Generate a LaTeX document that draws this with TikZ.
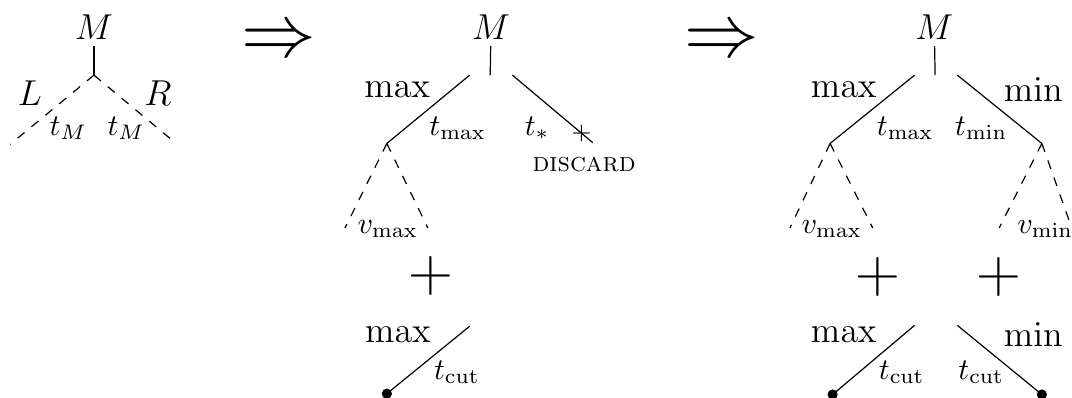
\documentclass[tikz,border=0pt]{standalone}

\begin{document}
\begin{tikzpicture}[
  lbl/.style={font=\large, inner sep=2pt},
  sub/.style={font=\normalsize, inner sep=2pt},
  big/.style={font=\huge, inner sep=0pt},
  small/.style={font=\small, inner sep=0pt},
  cutmark/.style={font=\footnotesize, inner sep=0pt},
  half/.style={dashed},
  leaf/.style={circle, fill=black, inner sep=0pt, minimum size=3.4pt}
]
\useasboundingbox (0,0) rectangle (12.553,4.660);

% --- FIRST TREE ----------------------------------------------------
\node[lbl] (m1) at (1.10,4.34) {$M$};
\coordinate (r1) at (1.10,3.78);
\coordinate (l1) at (0.12,2.97);
\coordinate (e1) at (2.05,2.99);
\node[lbl] (L1) at (0.35,3.57) {$L$};
\node[lbl] (R1) at (1.85,3.57) {$R$};
\node[sub] (tl1) at (0.80,3.16) {$t_M$};
\node[sub] (tr1) at (1.48,3.16) {$t_M$};

% --- IMPLIES -------------------------------------------------------
\node[font=\Huge, inner sep=0pt] (imp1) at (3.27,4.16) {$\Rightarrow$};
\node[font=\Huge, inner sep=0pt] (imp2) at (8.45,4.16) {$\Rightarrow$};

% --- SECOND TREE ---------------------------------------------------
\node[lbl] (m2) at (5.75,4.34) {$M$};
\coordinate (r2) at (5.74,3.78);
\coordinate (a2) at (5.50,3.78);
\coordinate (b2) at (6.00,3.78);
\coordinate (p2) at (4.53,2.98);
\coordinate (q2) at (6.94,2.99);
\node[cutmark] (x2) at (6.81,3.10) {$+$};
\node[small] (dis) at (6.84,2.73) {\textsc{discard}};
\node[lbl] (max2) at (4.65,3.61) {$\max$};
\node[sub] (tmax2) at (5.36,3.16) {$t_{\max}$};
\node[sub] (ts2) at (6.29,3.16) {$t_*$};
\coordinate (pl2) at (4.04,1.99);
\coordinate (pr2) at (5.01,1.99);
\node[sub] (vmax2) at (4.54,1.98) {$v_{\max}$};
\node[big] (plus2) at (5.04,1.43) {$+$};
\node[lbl] (cmax2) at (4.66,0.74) {$\max$};
\coordinate (c2) at (5.50,0.84);
\node[leaf] (d2) at (4.53,0.05) {};
\node[sub] (tc2) at (5.35,0.30) {$t_{\mathrm{cut}}$};

% --- THIRD TREE ----------------------------------------------------
\node[lbl] (m3) at (10.94,4.34) {$M$};
\coordinate (r3) at (10.95,3.78);
\coordinate (a3) at (10.71,3.78);
\coordinate (b3) at (11.21,3.78);
\coordinate (p3) at (9.72,2.98);
\coordinate (q3) at (12.20,2.98);
\node[lbl] (max3) at (9.88,3.61) {$\max$};
\node[lbl] (min3) at (12.10,3.61) {$\min$};
\node[sub] (tmax3) at (10.60,3.16) {$t_{\max}$};
\node[sub] (tmin3) at (11.49,3.16) {$t_{\min}$};
\coordinate (pl3) at (9.25,1.99);
\coordinate (pr3) at (10.22,1.99);
\coordinate (ql3) at (11.70,1.99);
\coordinate (qr3) at (12.55,1.99);
\node[sub] (vmax3) at (9.74,1.98) {$v_{\max}$};
\node[sub] (vmin3) at (12.24,1.98) {$v_{\min}$};
\node[big] (plusl3) at (10.28,1.42) {$+$};
\node[big] (plusr3) at (11.70,1.42) {$+$};
\node[lbl] (cmax3) at (9.88,0.74) {$\max$};
\node[lbl] (cmin3) at (12.10,0.74) {$\min$};
\coordinate (cl3) at (10.71,0.85);
\coordinate (cr3) at (11.21,0.85);
\node[leaf] (dl3) at (9.75,0.04) {};
\node[leaf] (dr3) at (12.20,0.04) {};
\node[sub] (tcl3) at (10.56,0.30) {$t_{\mathrm{cut}}$};
\node[sub] (tcr3) at (11.49,0.30) {$t_{\mathrm{cut}}$};

% --- EDGES ---------------------------------------------------------
\draw (m1) -- (r1);
\draw[half] (r1) -- (l1);
\draw[half] (r1) -- (e1);

\draw (m2) -- (r2);
\draw (a2) -- (p2);
\draw (b2) -- (q2);
\draw[half] (p2) -- (pl2);
\draw[half] (p2) -- (pr2);
\draw (c2) -- (d2.center);

\draw (m3) -- (r3);
\draw (a3) -- (p3);
\draw (b3) -- (q3);
\draw[half] (p3) -- (pl3);
\draw[half] (p3) -- (pr3);
\draw[half] (q3) -- (ql3);
\draw[half] (q3) -- (qr3);
\draw (cl3) -- (dl3.center);
\draw (cr3) -- (dr3.center);

\end{tikzpicture}
\end{document}
